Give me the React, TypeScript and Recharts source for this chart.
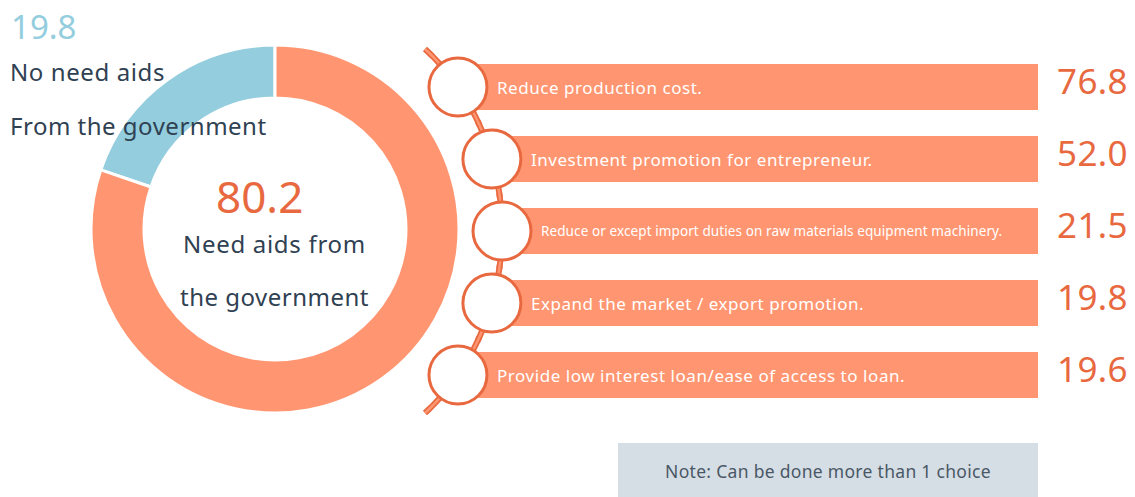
import React from "react";
import { PieChart, Pie, Cell, BarChart, Bar, XAxis, YAxis } from "recharts";

// ---- data ----
const pieNames = ["No need aids", "Need aids"];
const pieValues = [19.8, 80.2];
const pieLabelLines = [
  ["No need aids", "From the government"],
  ["Need aids from", "the government"],
];
const aidCategories = [
  "Reduce production cost.",
  "Investment promotion for entrepreneur.",
  "Reduce or except import duties on raw materials equipment machinery.",
  "Expand the market / export promotion.",
  "Provide low interest loan/ease of access to loan.",
];
const aidValues = [76.8, 52.0, 21.5, 19.8, 19.6];
const trackValues = [100, 100, 100, 100, 100];

// ---- style ----
const W = 1135;
const H = 497;
const FONT = "'Noto Sans', sans-serif";
const ORANGE = "#FF9671";
const ORANGE_DARK = "#E8693F";
const BLUE = "#94CDDD";
const DARK = "#2F4152";
const SPINE = { cx: 290, cy: 231, rx: 212, ry: 236 };

const pieData = pieNames.map((n, i) => ({ name: n, value: pieValues[i] }));
const pieColors = [BLUE, ORANGE];
const barData = aidCategories.map((c, i) => ({ name: c, value: aidValues[i], track: trackValues[i] }));

const spineX = (y: number) => {
  const t = (y - SPINE.cy) / SPINE.ry;
  return SPINE.cx + SPINE.rx * Math.sqrt(Math.max(0, 1 - t * t));
};

const renderPieLabel = (props: any) => {
  const { index, value } = props;
  const lines = pieLabelLines[index];
  if (index === 0) {
    return (
      <g key="l0">
        <text x={11} y={39} fontSize={33} fill={BLUE} fontFamily={FONT}>{Number(value).toFixed(1)}</text>
        <text x={10} y={81} fontSize={24} letterSpacing={0.6} fill={DARK} fontFamily={FONT}>{lines[0]}</text>
        <text x={10} y={135} fontSize={24} letterSpacing={0.5} fill={DARK} fontFamily={FONT}>{lines[1]}</text>
      </g>
    );
  }
  return (
    <g key="l1">
      <text x={216} y={213} fontSize={44} fill={ORANGE_DARK} fontFamily={FONT}>{Number(value).toFixed(1)}</text>
      <text x={183} y={253} fontSize={24} letterSpacing={0.7} fill={DARK} fontFamily={FONT}>{lines[0]}</text>
      <text x={180} y={306} fontSize={24} letterSpacing={0.5} fill={DARK} fontFamily={FONT}>{lines[1]}</text>
    </g>
  );
};

const BarShape = (props: any) => {
  const { x, y, width, height, payload } = props;
  const yc = y + height / 2;
  const cxc = spineX(yc);
  const right = x + width;
  const gap = 15;
  const pts: string[] = [];
  for (let yy = y - gap; yy <= y + height + gap; yy += 2) {
    pts.push(`${spineX(yy).toFixed(2)},${yy.toFixed(2)}`);
  }
  const d = "M" + pts.join(" L");
  const long = String(payload.name).length > 50;
  return (
    <g>
      <rect x={cxc} y={y} width={right - cxc} height={height} fill={ORANGE} />
      <path d={d} fill="none" stroke={ORANGE_DARK} strokeWidth={6} />
      <path d={d} fill="none" stroke={ORANGE} strokeWidth={2.5} />
      <circle cx={cxc} cy={yc} r={29} fill="#fff" stroke={ORANGE_DARK} strokeWidth={3} />
      <text
        x={cxc + 39}
        y={yc}
        dominantBaseline="central"
        fill="#fff"
        fontSize={long ? 13.5 : 17}
        fontFamily={FONT}
        letterSpacing={long ? 0.1 : 0.55}
      >
        {payload.name}
      </text>
      <text
        x={right + 19}
        y={yc - 7}
        dominantBaseline="central"
        fill={ORANGE_DARK}
        fontSize={35}
        letterSpacing={0.4}
        fontFamily={FONT}
      >
        {Number(payload.value).toFixed(1)}
      </text>
    </g>
  );
};

export default function App() {
  return (
    <div style={{ position: "absolute", left: 0, top: 0, width: W, height: H, background: "#fff", overflow: "hidden", fontFamily: FONT }}>
      <div style={{ position: "absolute", left: 0, top: 0 }}>
        <PieChart width={W} height={H} margin={{ top: 0, right: 0, bottom: 0, left: 0 }}>
          <Pie
            data={pieData}
            dataKey="value"
            nameKey="name"
            cx={275}
            cy={229}
            innerRadius={131}
            outerRadius={184}
            startAngle={90}
            endAngle={450}
            stroke="#fff"
            strokeWidth={3}
            label={renderPieLabel}
            labelLine={false}
            isAnimationActive={false}
          >
            {pieData.map((d, i) => (
              <Cell key={d.name} fill={pieColors[i]} />
            ))}
          </Pie>
        </PieChart>
      </div>
      <div style={{ position: "absolute", left: 0, top: 0 }}>
        <BarChart
          width={W}
          height={H}
          data={barData}
          layout="vertical"
          margin={{ top: 51, right: 97, bottom: 86, left: 420 }}
          barSize={46}
        >
          <XAxis type="number" domain={[0, 100]} hide />
          <YAxis type="category" dataKey="name" hide />
          <Bar dataKey="track" shape={BarShape} isAnimationActive={false} />
        </BarChart>
      </div>
      <div
        style={{
          position: "absolute",
          left: 618,
          top: 443,
          width: 420,
          height: 60,
          background: "#D6DEE5",
          color: "#4A5866",
          fontSize: 17.5,
          letterSpacing: 0.3,
          lineHeight: "57px",
          textAlign: "center",
          fontFamily: FONT,
        }}
      >
        Note: Can be done more than 1 choice
      </div>
    </div>
  );
}
